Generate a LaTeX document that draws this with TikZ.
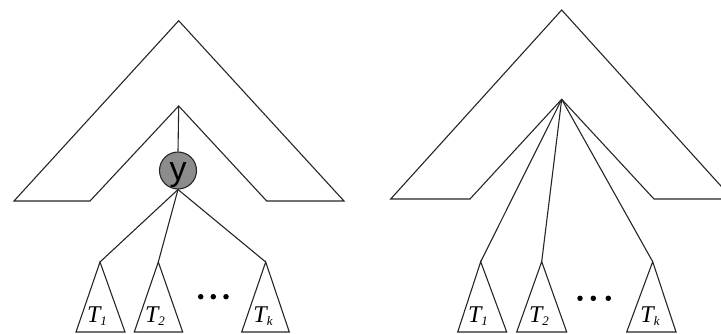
\documentclass[tikz,border=0pt]{standalone}
\usepackage{fontspec}
\setmainfont{Liberation Serif}
\newfontfamily\ysans{Liberation Sans}
\tikzset{
  edge/.style={draw=black!85, line width=1.1pt, line join=miter},
  hull/.style={edge},
  sub/.style={edge},
  lbl/.style={anchor=base, inner sep=0pt, font=\fontsize{24}{24}\selectfont\itshape},
  dot/.style={circle, fill=black, inner sep=0pt, minimum size=5.5pt},
  ynode/.style={circle, draw=black!85, line width=1.1pt, fill=black!45, minimum size=37pt, inner sep=0pt},
  ytext/.style={inner sep=0pt, anchor=base, font=\ysans\fontsize{34}{34}\selectfont}
}
\newcommand{\tlab}[1]{T\raisebox{-3pt}{\fontsize{13}{13}\selectfont #1}}
\begin{document}
\begin{tikzpicture}[x=1pt,y=-1pt]
\useasboundingbox (0,0) rectangle (721,334);
\clip (0,0) rectangle (721,334);
% ---------- left figure ----------
\coordinate (LA) at (178.7,20.7);
\coordinate (LOL) at (14,201);
\coordinate (LIL) at (90,201);
\coordinate (LI) at (178.7,106);
\coordinate (LIR) at (266.7,201);
\coordinate (LOR) at (344,201);
\draw[hull] (LIL) -- (LOL) -- (LA) -- (LOR) -- (LIR) -- (LI) -- cycle;
\node[ynode] (y) at (178,170.5) {};
\node[ytext] (ylab) at (178,181) {y};
\draw[edge] (LI) -- (y.north);
% subtrees left
\coordinate (l1) at (100,262);
\coordinate (l1a) at (76,332);
\coordinate (l1b) at (125,332);
\coordinate (l2) at (158.3,262);
\coordinate (l2a) at (134.3,332);
\coordinate (l2b) at (182.7,332);
\coordinate (lk) at (265.7,262);
\coordinate (lka) at (241.7,332);
\coordinate (lkb) at (289.3,332);
\draw[sub] (l1) -- (l1a) -- (l1b) -- cycle;
\draw[sub] (l2) -- (l2a) -- (l2b) -- cycle;
\draw[sub] (lk) -- (lka) -- (lkb) -- cycle;
\draw[edge] (y.south) -- (l1);
\draw[edge] (y.south) -- (l2);
\draw[edge] (y.south) -- (lk);
\node[lbl] (lt1) at (97,322) {\tlab{1}};
\node[lbl] (lt2) at (155,322) {\tlab{2}};
\node[lbl] (ltk) at (263,322) {\tlab{k}};
\node[dot] (ld1) at (200.7,296.7) {};
\node[dot] (ld2) at (213.3,296.7) {};
\node[dot] (ld3) at (226,296.7) {};
% ---------- right figure ----------
\coordinate (RA) at (561.7,10);
\coordinate (ROL) at (390.7,199);
\coordinate (RIL) at (470,199);
\coordinate (RI) at (561.7,99.3);
\coordinate (RIR) at (654,199);
\coordinate (ROR) at (732.7,199);
\draw[hull] (RIL) -- (ROL) -- (RA) -- (ROR) -- (RIR) -- (RI) -- cycle;
\coordinate (r1) at (480.7,261.7);
\coordinate (r1a) at (457.7,332);
\coordinate (r1b) at (506.7,332);
\coordinate (r2) at (541.7,261.7);
\coordinate (r2a) at (516.7,332);
\coordinate (r2b) at (566.7,332);
\coordinate (rk) at (652.7,261.7);
\coordinate (rka) at (626.7,332);
\coordinate (rkb) at (676,332);
\draw[sub] (r1) -- (r1a) -- (r1b) -- cycle;
\draw[sub] (r2) -- (r2a) -- (r2b) -- cycle;
\draw[sub] (rk) -- (rka) -- (rkb) -- cycle;
\draw[edge] (RI) -- (r1);
\draw[edge] (RI) -- (r2);
\draw[edge] (RI) -- (rk);
\node[lbl] (rt1) at (478,322) {\tlab{1}};
\node[lbl] (rt2) at (539,322) {\tlab{2}};
\node[lbl] (rtk) at (650,322) {\tlab{k}};
\node[dot] (rd1) at (580,298.3) {};
\node[dot] (rd2) at (593.3,298.3) {};
\node[dot] (rd3) at (608.3,298.3) {};
\end{tikzpicture}
\end{document}
